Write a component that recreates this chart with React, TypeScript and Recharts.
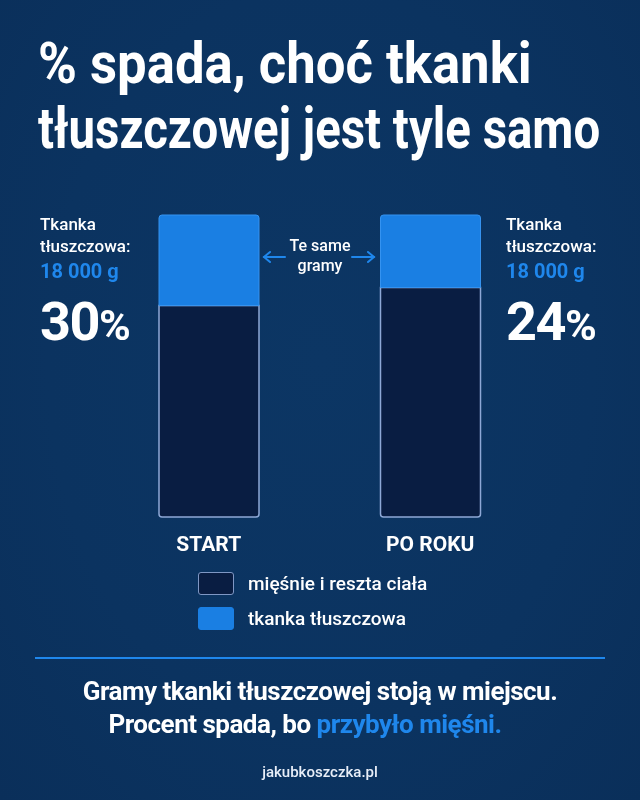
import { useLayoutEffect, useRef, useState } from "react";
import { BarChart, Bar, XAxis, YAxis } from "recharts";

const categories = ["START", "PO ROKU"];
const fatGrams = [18000, 18000];
const restGrams = [42000, 57000];
const fatPercent = ["30", "24"];
const fatLabel = "18 000 g";
const legendLabels = ["mięśnie i reszta ciała", "tkanka tłuszczowa"];
const titleLines = ["% spada, choć tkanki", "tłuszczowej jest tyle samo"];
const titleWidths = [494, 562];

const BG = "#0b3360";
const FAT = "#1a7fe3";
const REST = "#091d42";
const ACCENT = "#1f87ec";
const FONT = "Roboto, 'Noto Sans', sans-serif";

const chartData = categories.map((name, i) => ({
  name,
  rest: restGrams[i],
  fat: fatGrams[i],
}));

// squeeze a title line to the condensed width of the original headline
function FitLine({ text, width, top }: { text: string; width: number; top: number }) {
  const ref = useRef<HTMLDivElement>(null);
  const [scale, setScale] = useState(1);
  useLayoutEffect(() => {
    if (ref.current) setScale(width / ref.current.scrollWidth);
  }, [width]);
  return (
    <div
      ref={ref}
      style={{
        position: "absolute",
        left: 38,
        top,
        whiteSpace: "nowrap",
        color: "#fff",
        fontSize: 58,
        fontWeight: 700,
        lineHeight: "68px",
        transform: `scaleX(${scale})`,
        transformOrigin: "left top",
      }}
    >
      {text}
    </div>
  );
}

function CategoryTick({ x, y, payload }: any) {
  return (
    <text x={x} y={y} dy={26} textAnchor="middle" fill="#fff" fontSize={21} fontWeight={700} fontFamily={FONT}>
      {payload.value}
    </text>
  );
}

function SideNote({ left, pct }: { left: number; pct: string }) {
  return (
    <div style={{ position: "absolute", left, top: 213, color: "#fff", fontFamily: FONT }}>
      <div style={{ fontSize: 17, fontWeight: 500, lineHeight: "22px" }}>Tkanka</div>
      <div style={{ fontSize: 17, fontWeight: 500, lineHeight: "22px" }}>tłuszczowa:</div>
      <div style={{ fontSize: 20, fontWeight: 700, lineHeight: "26px", color: ACCENT, marginTop: 1 }}>{fatLabel}</div>
      <div style={{ fontSize: 54, fontWeight: 700, lineHeight: "60px", marginTop: 8, letterSpacing: -1.5 }}>
        {pct}
        <span style={{ fontSize: 43 }}>%</span>
      </div>
    </div>
  );
}

export default function App() {
  return (
    <div
      style={{
        position: "fixed",
        left: 0,
        top: 0,
        width: 640,
        height: 800,
        overflow: "hidden",
        background: `radial-gradient(ellipse at 50% 45%, #0c3664 0%, ${BG} 60%, #0a2f5a 100%)`,
        fontFamily: FONT,
      }}
    >
      {titleLines.map((line, i) => (
        <FitLine key={line} text={line} width={titleWidths[i]} top={29 + i * 65} />
      ))}

      <div style={{ position: "absolute", left: 0, top: 0 }}>
        <BarChart
          width={640}
          height={560}
          data={chartData}
          stackOffset="expand"
          margin={{ top: 215, right: 99, left: 98, bottom: 0 }}
        >
          <XAxis dataKey="name" axisLine={false} tickLine={false} height={43} tick={<CategoryTick />} interval={0} />
          <YAxis hide domain={[0, 1]} />
          <Bar
            dataKey="rest"
            stackId="a"
            fill={REST}
            stroke="#8ea8d6"
            strokeWidth={1.5}
            barSize={100}
            radius={[0, 0, 3, 3]}
            isAnimationActive={false}
          />
          <Bar
            dataKey="fat"
            stackId="a"
            fill={FAT}
            stroke="#3593f0"
            strokeWidth={1}
            barSize={100}
            radius={[3, 3, 0, 0]}
            isAnimationActive={false}
          />
        </BarChart>
      </div>

      <SideNote left={40} pct={fatPercent[0]} />
      <SideNote left={506} pct={fatPercent[1]} />

      <div
        style={{
          position: "absolute",
          left: 280,
          top: 236,
          width: 80,
          textAlign: "center",
          color: "#fff",
          fontSize: 16,
          fontWeight: 500,
          lineHeight: "20px",
        }}
      >
        <div>Te same</div>
        <div>gramy</div>
      </div>
      <svg style={{ position: "absolute", left: 0, top: 200 }} width={640} height={100}>
        <g stroke={ACCENT} strokeWidth={2} fill="none" strokeLinecap="round">
          <line x1={285} y1={57} x2={264} y2={57} />
          <polyline points="270,52 264,57 270,62" />
          <line x1={352} y1={57} x2={374} y2={57} />
          <polyline points="368,52 374,57 368,62" />
        </g>
      </svg>

      {legendLabels.map((label, i) => (
        <div
          key={label}
          style={{ position: "absolute", left: 198, top: 572 + i * 35, display: "flex", alignItems: "center" }}
        >
          <div
            style={{
              width: 36,
              height: 23,
              borderRadius: 3,
              boxSizing: "border-box",
              background: i === 0 ? REST : FAT,
              border: i === 0 ? "1.5px solid #7f97c4" : `1px solid ${FAT}`,
            }}
          />
          <span style={{ marginLeft: 14, color: "#fff", fontSize: 19, fontWeight: 500 }}>{label}</span>
        </div>
      ))}

      <div style={{ position: "absolute", left: 35, top: 657, width: 570, height: 2, background: ACCENT }} />

      <div
        style={{
          position: "absolute",
          left: 0,
          top: 675,
          width: 640,
          textAlign: "center",
          color: "#fff",
          fontSize: 26,
          fontWeight: 700,
          lineHeight: "33px",
          letterSpacing: -0.5,
        }}
      >
        <div>Gramy tkanki tłuszczowej stoją w miejscu.</div>
        <div style={{ marginLeft: -30 }}>
          Procent spada, bo <span style={{ color: ACCENT }}>przybyło mięśni.</span>
        </div>
      </div>

      <div
        style={{
          position: "absolute",
          left: 0,
          top: 763,
          width: 640,
          textAlign: "center",
          color: "#e8eef8",
          fontSize: 15,
          fontWeight: 500,
        }}
      >
        jakubkoszczka.pl
      </div>
    </div>
  );
}
